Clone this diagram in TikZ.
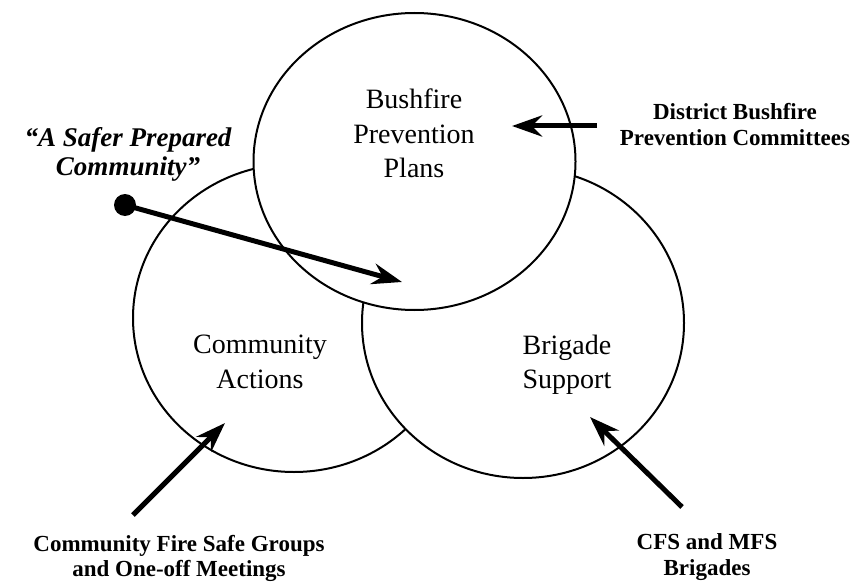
\documentclass[tikz,border=0pt]{standalone}
\usepackage{fontspec}
\setmainfont{Liberation Serif}
\usetikzlibrary{arrows.meta,shapes.geometric}

\begin{document}
\begin{tikzpicture}[x=1pt, y=-1pt,
    blob/.style={draw, ellipse, fill=white, line width=2pt, inner sep=0pt, minimum width=322pt},
    plain/.style={align=center, inner sep=0pt, font=\fontsize{28}{34.5}\selectfont},
    tag/.style={align=center, inner sep=0pt, font=\fontsize{23}{25.5}\selectfont\bfseries},
    pointer/.style={-{Stealth[length=30pt, width=21pt, inset=10pt]}, line width=5pt}]
    \useasboundingbox (0,0) rectangle (854,583);
    % The three circles, back to front
    \node[blob, minimum height=308pt] (actions) at (294,318) {};
    \node[blob, minimum height=310pt] (support) at (523,323) {};
    \node[blob, minimum height=297pt] (plans) at (414.5,161.5) {};
    % Texts inside the circles
    \node[plain] (plansText) at (414,133.5) {Bushfire\\Prevention\\Plans};
    \node[plain] (actionsText) at (260,362) {Community\\Actions};
    \node[plain] (supportText) at (567,365) {Brigade\\Support};
    % Outside labels
    \node[tag] (district) at (735,124.5) {District Bushfire\\Prevention Committees};
    \node[tag, font=\fontsize{27}{28.5}\selectfont\bfseries\itshape] (motto) at (128,154.5) {“A Safer Prepared\\Community”};
    \node[tag] (groups) at (179,558.5) {Community Fire Safe Groups\\and One-off Meetings};
    \node[tag] (brigades) at (707,557) {CFS and MFS\\Brigades};
    % Arrow ends
    \coordinate (districtTail) at (597,126);
    \coordinate (plansTip) at (512,126);
    \coordinate (mottoTip) at (402,282);
    \coordinate (groupsTail) at (133,515);
    \coordinate (actionsTip) at (225,423);
    \coordinate (brigadesTail) at (682,507);
    \coordinate (supportTip) at (590,417);
    % Arrows
    \node[circle, fill=black, inner sep=0pt, minimum size=22pt] (dot) at (125,205) {};
    \draw[pointer] (dot.center) -- (mottoTip);
    \draw[pointer] (districtTail) -- (plansTip);
    \draw[pointer] (groupsTail) -- (actionsTip);
    \draw[pointer] (brigadesTail) -- (supportTip);
\end{tikzpicture}
\end{document}
